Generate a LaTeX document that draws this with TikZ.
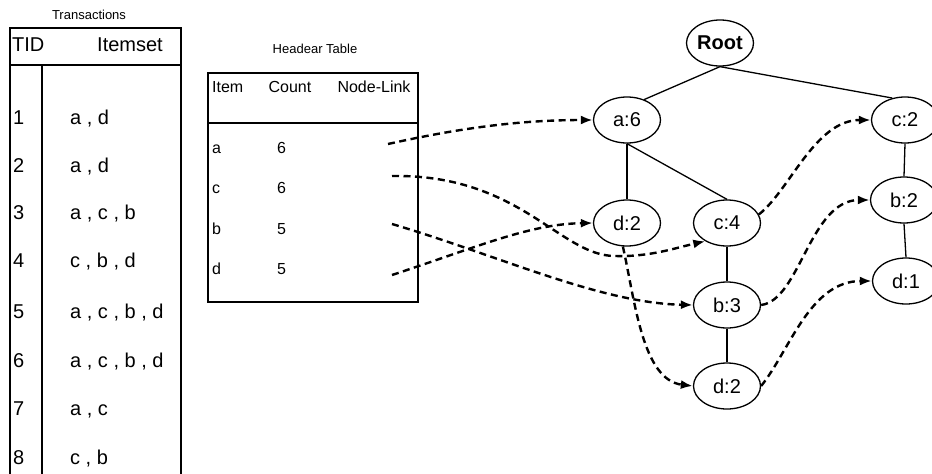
\documentclass[tikz,border=0pt]{standalone}
\usepackage{fontspec}
\setmainfont{Liberation Sans}
\usetikzlibrary{arrows.meta,shapes.geometric}
\begin{document}
\begin{tikzpicture}[x=1pt,y=-1pt,
  tnode/.style={ellipse,draw,line width=1.3pt,minimum width=67pt,minimum height=46pt,inner sep=0pt,font=\fontsize{20}{22}\selectfont},
  tedge/.style={line width=1.3pt},
  link/.style={line width=2.4pt,dash pattern=on 7pt off 4.5pt,-{Latex[length=12pt,width=9pt]}},
  tbl/.style={line width=1.6pt},
  htbl/.style={line width=1.3pt},
  ttitle/.style={inner sep=0pt,font=\fontsize{13}{15}\selectfont},
  thead/.style={inner sep=0pt,anchor=base west,font=\fontsize{20}{22}\selectfont},
  trow/.style={inner sep=0pt,anchor=base west,font=\fontsize{20}{22}\selectfont},
  hhead/.style={inner sep=0pt,anchor=base,font=\fontsize{16}{18}\selectfont},
  hrow/.style={inner sep=0pt,anchor=base west,font=\fontsize{16}{18}\selectfont},
  hnum/.style={inner sep=0pt,anchor=base,font=\fontsize{16}{18}\selectfont}]
\useasboundingbox (0,0) rectangle (932,474);

% ---- Transactions table ----
\node[ttitle] (ttl) at (89,15) {Transactions};
\draw[tbl] (10,490) -- (10,28) -- (181,28) -- (181,490);
\draw[tbl] (10,65) -- (181,65);
\draw[tbl] (42,65) -- (42,490);
\node[thead] (tid) at (12,51) {TID};
\node[thead] (its) at (97,51) {Itemset};
\foreach \y/\t/\s in {117/1/{a , d},165/2/{a , d},212/3/{a , c , b},260/4/{c , b , d},311/5/{a , c , b , d},360/6/{a , c , b , d},408/7/{a , c},457/8/{c , b}}{
  \node[trow] (tid\t) at (13,\y+7) {\t};
  \node[trow] (set\t) at (70,\y+7) {\s};
}

% ---- Header table ----
\node[ttitle] (htl) at (315,49) {Headear Table};
\draw[htbl] (208,73) rectangle (418,302);
\draw[htbl] (208,123) -- (418,123);
\node[inner sep=0pt,anchor=base west,font=\fontsize{16}{18}\selectfont] (hitem) at (212,92.5) {Item};
\node[hhead] (hcount) at (290,92.5) {Count};
\node[hhead] (hlink) at (374,92.5) {Node-Link};
\foreach \y/\i/\c in {148/a/6,188/c/6,229/b/5,269/d/5}{
  \node[hrow] (hi\i) at (212,\y+5.5) {\i};
  \node[hnum] (hc\i) at (281.5,\y+5.8) {\c};
}
\coordinate (la) at (388,144);
\coordinate (lc) at (392,176);
\coordinate (lb) at (392,224);
\coordinate (ld) at (392,275);

% ---- FP tree ----
\node[tnode,font=\fontsize{20}{22}\selectfont\bfseries] (root) at (720,43) {Root};
\node[tnode] (a6) at (627,120) {a:6};
\node[tnode] (c2) at (905,120) {c:2};
\node[tnode] (d2u) at (627,223) {d:2};
\node[tnode] (c4) at (727,223) {c:4};
\node[tnode] (b2) at (904,200) {b:2};
\node[tnode] (b3) at (727,305) {b:3};
\node[tnode] (d1) at (906,281) {d:1};
\node[tnode] (d2l) at (727,386) {d:2};

\draw[tedge] (root.south) -- (a6.50);
\draw[tedge] (root.south) -- (c2.120);
\draw[tedge] (a6.south) -- (d2u.north);
\draw[tedge] (a6.south) -- (c4.north);
\draw[tedge] (c4.south) -- (b3.north);
\draw[tedge] (b3.south) -- (d2l.north);
\draw[tedge] (c2.south) -- (b2.north);
\draw[tedge] (b2.south) -- (d1.north);

% ---- node links ----
\draw[link] (la) .. controls (460,128) and (520,120) .. (a6.west);
\draw[link] (lc) .. controls (520,174) and (560,256) .. (615,256)
                 .. controls (650,257) and (675,248) .. (c4.220);
\draw[link] (lb) .. controls (500,256) and (600,303) .. (b3.west);
\draw[link] (ld) .. controls (480,246) and (530,224) .. (d2u.west);
\draw[link] (d2u.260) .. controls (635,300) and (642,380) .. (d2l.west);
\draw[link] (c4.15) .. controls (790,190) and (815,120) .. (c2.west);
\draw[link] (b3.east) .. controls (800,300) and (810,200) .. (b2.west);
\draw[link] (d2l.east) .. controls (790,350) and (810,281) .. (d1.west);
\end{tikzpicture}
\end{document}
